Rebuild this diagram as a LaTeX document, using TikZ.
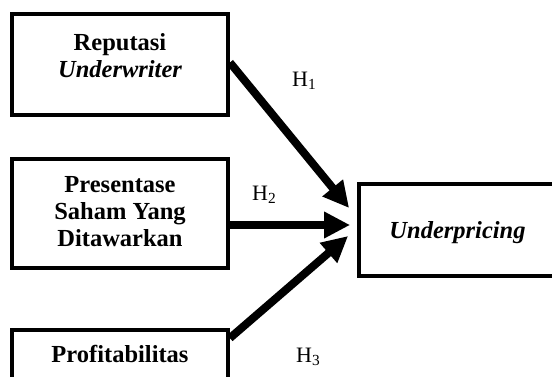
\documentclass[tikz,border=0pt]{standalone}
\usepackage{fontspec}
\setmainfont{Liberation Serif}
\usetikzlibrary{arrows.meta}
\begin{document}
\begin{tikzpicture}[x=1pt,y=-1pt,
  box/.style={draw, line width=3.8pt, inner sep=0pt},
  lbl/.style={font=\fontsize{24.5}{27}\selectfont\bfseries, anchor=base, inner sep=0pt},
  hyp/.style={font=\fontsize{22}{25}\selectfont, anchor=base west, inner sep=0pt},
  conn/.style={line width=8pt, -{Triangle[length=26pt,width=25pt]}}]
\clip (0,0) rectangle (552,376);
\fill[white] (0,0) rectangle (552,376);
% boxes
\node[box, minimum width=216pt, minimum height=101pt] (b1) at (120,64.5) {};
\node[box, minimum width=216pt, minimum height=109pt] (b2) at (120,213.5) {};
\node[box, minimum width=216pt, minimum height=80pt] (b3) at (120,370) {};
\node[box, minimum width=197pt, minimum height=92pt] (b4) at (457.5,230) {};
% texts
\node[lbl] (t1a) at (120,50) {Reputasi};
\node[lbl] (t1b) at (120,77) {\itshape Underwriter};
\node[lbl] (t2a) at (120,192) {Presentase};
\node[lbl] (t2b) at (120,219) {Saham Yang};
\node[lbl] (t2c) at (120,246) {Ditawarkan};
\node[lbl] (t3) at (120,362) {Profitabilitas};
\node[lbl] (t4) at (457.5,238) {\itshape Underpricing};
% hypothesis labels
\node[hyp] (h1) at (292,86) {H\textsubscript{1}};
\node[hyp] (h2) at (252,200) {H\textsubscript{2}};
\node[hyp] (h3) at (296,362) {H\textsubscript{3}};
% connectors
\draw[conn] ([yshift=2pt]b1.east) -- ([xshift=-8pt,yshift=22pt]b4.west);
\draw[conn] ([yshift=-11.5pt]b2.east) -- ([xshift=-7pt,yshift=5pt]b4.west);
\draw[conn] ([yshift=-10pt]b3.north east) -- ([xshift=-9pt,yshift=-6pt]b4.west);
\end{tikzpicture}
\end{document}
